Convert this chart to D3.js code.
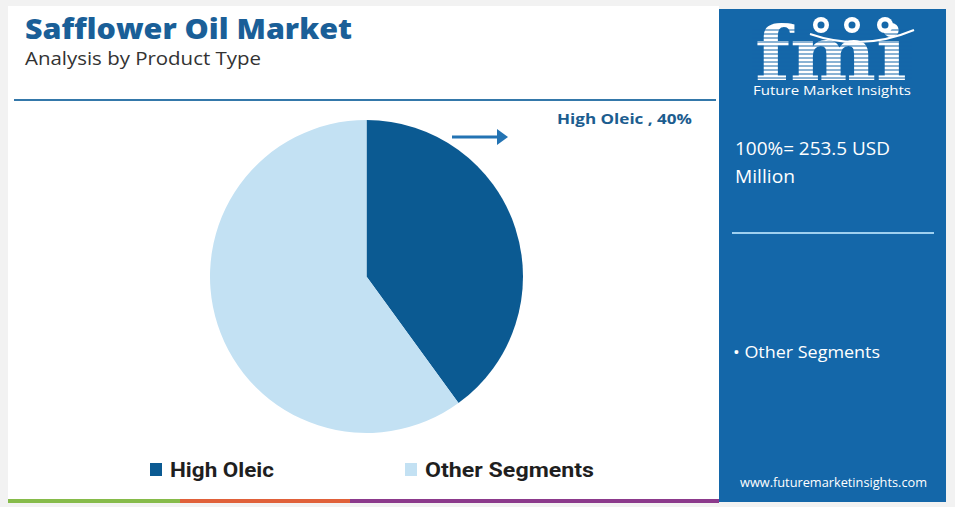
<!DOCTYPE html>
<html><head><meta charset="utf-8">
<script src="https://cdn.jsdelivr.net/npm/d3@7"></script>
<style>html,body{margin:0;padding:0;background:#f2f2f2;}svg{display:block;}</style>
</head><body>
<svg id="c" width="955" height="507"></svg>
<script>
const categories = ["High Oleic", "Other Segments"];
const shares = [40, 60];
const sliceColors = ["#0b5a92", "#c3e1f3"];
const title = "Safflower Oil Market";
const subtitle = "Analysis by Product Type";
const totalLabel = ["100%= 253.5 USD", "Million"];
const panelItems = ["Other Segments"];
const calloutLabel = "High Oleic , 40%";
const website = "www.futuremarketinsights.com";

const svg = d3.select("#c");
svg.append("rect").attr("x",0).attr("y",0).attr("width",955).attr("height",507).attr("fill","#f2f2f2");
// card
svg.append("rect").attr("x",8).attr("y",6).attr("width",711).attr("height",496).attr("fill","#ffffff");
// bottom colored strip
const strip = [["#86bb4a",8,180],["#e0613a",180,350],["#8c3a8c",350,719]];
strip.forEach(s=>svg.append("rect").attr("x",s[1]).attr("y",499).attr("width",s[2]-s[1]).attr("height",4).attr("fill",s[0]));
// right panel
svg.append("rect").attr("x",719).attr("y",9).attr("width",227).attr("height",493).attr("fill","#1467a9");

// title
svg.append("text").attr("x",25).attr("y",39).text(title)
  .attr("font-family","Open Sans, sans-serif").attr("font-weight",800).attr("font-size",29)
  .attr("fill","#1a5f98").attr("textLength",327).attr("lengthAdjust","spacingAndGlyphs");
svg.append("text").attr("x",25).attr("y",65).text(subtitle)
  .attr("font-family","Open Sans, sans-serif").attr("font-size",17.5).attr("fill","#333")
  .attr("textLength",236).attr("lengthAdjust","spacingAndGlyphs");
svg.append("line").attr("x1",14).attr("x2",716).attr("y1",100).attr("y2",100)
  .attr("stroke","#3478aa").attr("stroke-width",2);

// pie
const cx = 366.5, cy = 276.5, R = 156.5;
const pie = d3.pie().sort(null).value(d=>d)(shares);
const arc = d3.arc().innerRadius(0).outerRadius(R);
const color = d3.scaleOrdinal().domain(categories).range(sliceColors);
svg.append("g").attr("transform",`translate(${cx},${cy})`)
  .selectAll("path").data(pie).join("path")
  .attr("d",arc).attr("fill",(d,i)=>color(categories[i]));

// callout
svg.append("text").attr("x",557).attr("y",124).text(calloutLabel)
  .attr("font-family","Open Sans, sans-serif").attr("font-weight",700).attr("font-size",15)
  .attr("fill","#1c5d8f").attr("textLength",135).attr("lengthAdjust","spacingAndGlyphs");
svg.append("line").attr("x1",452).attr("x2",500).attr("y1",137).attr("y2",137)
  .attr("stroke","#2373b3").attr("stroke-width",3);
svg.append("path").attr("d","M497,129 L508,137 L497,145 Z").attr("fill","#2373b3");

// legend
const legX = [150, 405];
categories.forEach((c,i)=>{
  svg.append("rect").attr("x",legX[i]).attr("y",463).attr("width",12).attr("height",13).attr("fill",color(c));
  svg.append("text").attr("x",legX[i]+20).attr("y",477).text(c)
    .attr("font-family","Roboto, sans-serif").attr("font-weight",700).attr("font-size",20)
    .attr("fill","#1f1f1f").attr("textLength", i===0?104:169).attr("lengthAdjust","spacingAndGlyphs");
});

// logo
const logo = svg.append("g");
// logo wordmark drawn at a compact size and stretched so its box stays above the tagline
logo.append("text").attr("x",0).attr("y",0).text("fmi")
  .attr("transform","translate(755,80) scale(1,1.55)")
  .attr("font-family","DejaVu Serif, serif").attr("font-weight",700).attr("font-size",48)
  .attr("fill","#ffffff").attr("textLength",152).attr("lengthAdjust","spacingAndGlyphs");
for(let y=30;y<82;y+=4){
  logo.append("line").attr("x1",752).attr("x2",912).attr("y1",y).attr("y2",y)
    .attr("stroke","#1467a9").attr("stroke-width",1);
}
[[821,25],[852,25],[885,25]].forEach(p=>{
  logo.append("circle").attr("cx",p[0]).attr("cy",p[1]).attr("r",8).attr("fill","#ffffff");
  logo.append("circle").attr("cx",p[0]).attr("cy",p[1]).attr("r",3.5).attr("fill","#1467a9");
});
logo.append("path").attr("d","M810,34 Q862,52 914,30").attr("fill","none").attr("stroke","#ffffff").attr("stroke-width",2);
logo.append("text").attr("x",753).attr("y",95).text("Future Market Insights")
  .attr("font-family","Open Sans, sans-serif").attr("font-size",12.5).attr("fill","#ffffff")
  .attr("textLength",158).attr("lengthAdjust","spacingAndGlyphs");

// panel texts
totalLabel.forEach((t,i)=>{
  svg.append("text").attr("x",735).attr("y",155+i*28).text(t)
    .attr("font-family","Open Sans, sans-serif").attr("font-size",17.5).attr("fill","#ffffff")
    .attr("textLength", i===0?155:60).attr("lengthAdjust","spacingAndGlyphs");
});
svg.append("line").attr("x1",732).attr("x2",934).attr("y1",233).attr("y2",233)
  .attr("stroke","#9fd0f0").attr("stroke-width",2);
panelItems.forEach((t,i)=>{
  svg.append("text").attr("x",733).attr("y",358+i*26).text("• " + t)
    .attr("font-family","Open Sans, sans-serif").attr("font-size",16.5).attr("fill","#ffffff")
    .attr("textLength",147).attr("lengthAdjust","spacingAndGlyphs");
});
svg.append("text").attr("x",740).attr("y",487).text(website)
  .attr("font-family","Open Sans, sans-serif").attr("font-size",12.5).attr("fill","#ffffff")
  .attr("textLength",187).attr("lengthAdjust","spacingAndGlyphs");
</script>
</body></html>
